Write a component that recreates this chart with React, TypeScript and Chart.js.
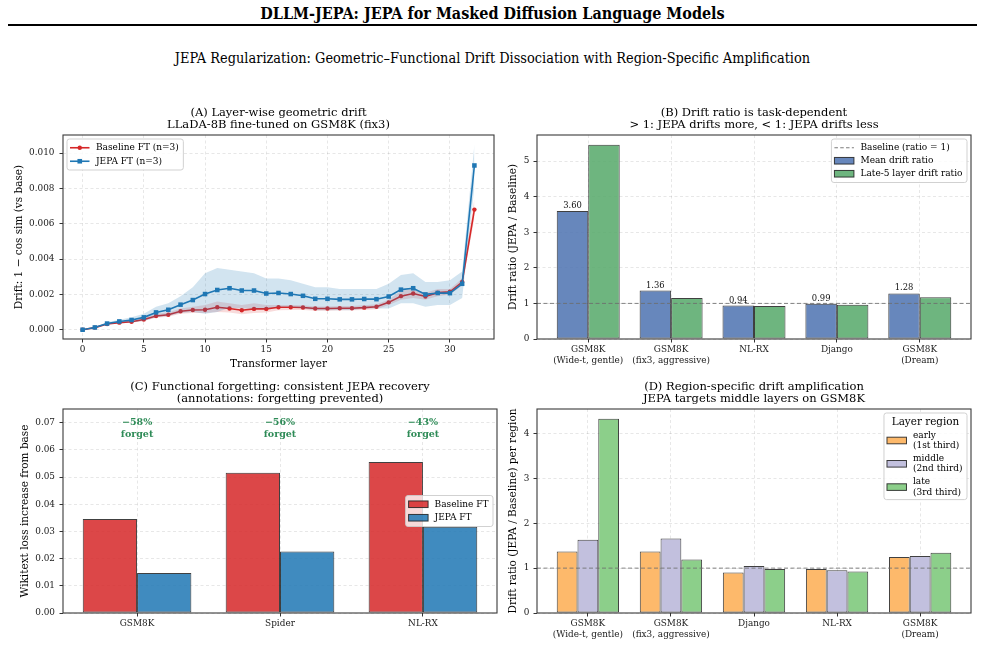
import { useEffect, useRef } from 'react';
import { Chart, registerables } from 'chart.js';

Chart.register(...registerables);

const FONT = "'DejaVu Serif', 'Liberation Serif', serif";

// ---------------- Panel A data ----------------
const layerIdx = [0, 1, 2, 3, 4, 5, 6, 7, 8, 9, 10, 11, 12, 13, 14, 15, 16, 17, 18, 19, 20, 21, 22, 23, 24, 25, 26, 27, 28, 29, 30, 31, 32];
const baselineDrift = [0, 0.00012, 0.00032, 0.0004, 0.00045, 0.00058, 0.00078, 0.00085, 0.00105, 0.00112, 0.00113, 0.00127, 0.0012, 0.0011, 0.00118, 0.00118, 0.00127, 0.00127, 0.00126, 0.0012, 0.0012, 0.00122, 0.00122, 0.00125, 0.0013, 0.00155, 0.0019, 0.00205, 0.00188, 0.0021, 0.00215, 0.0027, 0.0068];
const baselineLo = [0, 0.0001, 0.0003, 0.00036, 0.0004, 0.0005, 0.00068, 0.00074, 0.0009, 0.00095, 0.00095, 0.001, 0.00098, 0.00088, 0.00095, 0.00098, 0.0011, 0.00112, 0.00112, 0.00108, 0.00108, 0.0011, 0.0011, 0.00112, 0.00116, 0.0014, 0.0017, 0.0018, 0.0017, 0.0019, 0.002, 0.0025, 0.0063];
const baselineHi = [0, 0.00014, 0.00035, 0.00045, 0.0005, 0.00066, 0.0009, 0.00098, 0.0012, 0.0013, 0.0014, 0.0016, 0.0015, 0.0014, 0.0015, 0.0014, 0.0014, 0.0014, 0.00138, 0.00132, 0.00132, 0.00134, 0.00134, 0.00138, 0.00144, 0.0017, 0.0022, 0.0023, 0.0021, 0.0023, 0.0023, 0.0029, 0.0074];
const jepaDrift = [0, 0.00013, 0.00035, 0.00047, 0.00055, 0.0007, 0.00098, 0.00113, 0.00142, 0.00168, 0.00202, 0.00225, 0.00235, 0.00222, 0.00222, 0.00205, 0.00208, 0.00202, 0.00192, 0.00175, 0.00175, 0.00172, 0.00172, 0.00174, 0.00173, 0.00188, 0.00227, 0.00235, 0.002, 0.00208, 0.00207, 0.0026, 0.0093];
const jepaLo = [0, 0.0001, 0.0003, 0.0004, 0.00043, 0.0005, 0.0007, 0.00078, 0.00095, 0.001, 0.0009, 0.001, 0.00125, 0.0012, 0.0012, 0.0012, 0.0013, 0.0013, 0.0012, 0.0011, 0.0011, 0.0011, 0.0011, 0.0012, 0.0012, 0.0012, 0.0015, 0.0015, 0.0013, 0.0014, 0.0014, 0.0018, 0.0081];
const jepaHi = [0, 0.00017, 0.00042, 0.00056, 0.0007, 0.0009, 0.0013, 0.0015, 0.0019, 0.0024, 0.0032, 0.0035, 0.0034, 0.0033, 0.0032, 0.0029, 0.0029, 0.0028, 0.0026, 0.0024, 0.0024, 0.0023, 0.0023, 0.0023, 0.0023, 0.0026, 0.0031, 0.0032, 0.0027, 0.0027, 0.0028, 0.0033, 0.0105];
const layerTicksA = [0, 5, 10, 15, 20, 25, 30];
const driftTicksA = [0, 0.002, 0.004, 0.006, 0.008, 0.01];

// ---------------- Panel B data ----------------
const tasksB = [['GSM8K', '(Wide-t, gentle)'], ['GSM8K', '(fix3, aggressive)'], ['NL-RX'], ['Django'], ['GSM8K', '(Dream)']];
const meanRatio = [3.6, 1.36, 0.94, 0.99, 1.28];
const late5Ratio = [5.46, 1.15, 0.93, 0.96, 1.17];
const ratioTicksB = [0, 1, 2, 3, 4, 5];

// ---------------- Panel C data ----------------
const tasksC = ['GSM8K', 'Spider', 'NL-RX'];
const baselineForget = [0.0346, 0.0516, 0.0556];
const jepaForget = [0.0147, 0.0226, 0.0317];
const forgetNotes = ['\u221258%', '\u221256%', '\u221243%'];
const forgetTicksC = [0, 0.01, 0.02, 0.03, 0.04, 0.05, 0.06, 0.07];

// ---------------- Panel D data ----------------
const tasksD = [['GSM8K', '(Wide-t, gentle)'], ['GSM8K', '(fix3, aggressive)'], ['Django'], ['NL-RX'], ['GSM8K', '(Dream)']];
const earlyRatio = [1.37, 1.37, 0.9, 0.98, 1.25];
const middleRatio = [1.63, 1.66, 1.05, 0.955, 1.27];
const lateRatio = [4.33, 1.19, 0.98, 0.925, 1.34];
const ratioTicksD = [0, 1, 2, 3, 4];

// ---------------- colours ----------------
const RED = '#d62728';
const BLUE = '#1f77b4';
const B_BLUE = 'rgba(76,114,176,0.85)';
const B_GREEN = 'rgba(85,168,104,0.85)';
const C_RED = 'rgba(214,39,40,0.85)';
const C_BLUE = 'rgba(31,119,180,0.85)';
const D_ORANGE = '#fdb96b';
const D_PURPLE = '#c2c0de';
const D_GREEN = '#8ccf8a';
const EDGE = 'rgba(30,30,30,0.85)';

const W = 985;
const H = 646;

const pts = (xs: number[], ys: number[]) => xs.map((x, i) => ({ x, y: ys[i] }));
const idxPts = (ys: number[]) => ys.map((y, i) => ({ x: i, y }));

function axis(o: {
  min: number; max: number; ticks: number[]; fmt: (v: number) => string | string[];
  fit: number; horizontal: boolean; pad: number; title?: string; titlePad?: number;
}) {
  return {
    type: 'linear',
    bounds: 'data',
    min: o.min,
    max: o.max,
    offset: false,
    afterBuildTicks: (s: any) => { s.ticks = o.ticks.map((v) => ({ value: v })); },
    afterFit: (s: any) => { if (o.horizontal) s.height = o.fit; else s.width = o.fit; },
    ticks: {
      autoSkip: false, maxRotation: 0, minRotation: 0, padding: o.pad, color: '#1a1a1a',
      font: { family: FONT, size: 8.9, lineHeight: 1.24 },
      callback: (v: any) => o.fmt(Number(v)),
    },
    grid: {
      display: true, drawOnChartArea: true, color: 'rgba(0,0,0,0.12)', lineWidth: 0.8,
      drawTicks: true, tickLength: 3.5, tickWidth: 1, tickColor: '#333', tickBorderDash: [], offset: false,
    },
    border: { display: false, dash: [3, 2.5] },
    title: o.title
      ? {
          display: true, text: o.title, color: '#000',
          font: { family: FONT, size: 10.5, lineHeight: 1.2 },
          padding: o.horizontal ? { top: 0, bottom: o.titlePad ?? 0 } : { top: o.titlePad ?? 0, bottom: 0 },
        }
      : { display: false },
  };
}

type LegendRow = { kind: 'line' | 'patch' | 'dash'; color: string; marker?: 'circle' | 'rect'; lines: string[] };
type LegendSpec = {
  anchor: 'tl' | 'tr' | 'r'; rows: LegendRow[]; header?: string;
  lh?: number; gap?: number; padY?: number; headH?: number;
};
type Decor = {
  title: string[];
  legend: LegendSpec;
  refLine?: number;
  valueLabels?: { dataset: number; values: number[] };
  notes?: { y: number; top: string[]; bottom: string };
};

function drawLegend(ctx: CanvasRenderingContext2D, a: any, L: LegendSpec) {
  const fs = 9;
  const lh = L.lh ?? 10.5;
  const gap = L.gap ?? 3;
  const padY = L.padY ?? 3.5;
  const padL = 3;
  const padR = 4.5;
  const hl = 19.5;
  const hg = 6.5;
  ctx.font = `${fs}px ${FONT}`;
  let tw = 0;
  L.rows.forEach((r) => r.lines.forEach((s) => { tw = Math.max(tw, ctx.measureText(s).width); }));
  let headH = 0;
  let headW = 0;
  if (L.header) {
    ctx.font = `10.4px ${FONT}`;
    headW = ctx.measureText(L.header).width;
    headH = L.headH ?? 14;
  }
  const w = padL + Math.max(hl + hg + tw, headW) + padR;
  const rowsH = L.rows.reduce((s, r) => s + r.lines.length * lh, 0) + gap * (L.rows.length - 1);
  const h = padY * 2 + headH + rowsH;
  const inset = 4;
  const x = L.anchor === 'tl' ? a.left + inset : a.right - inset - w;
  const y = L.anchor === 'r' ? (a.top + a.bottom) / 2 - h / 2 : a.top + inset;
  ctx.save();
  ctx.setLineDash([]);
  ctx.beginPath();
  (ctx as any).roundRect(x, y, w, h, 2.5);
  ctx.fillStyle = 'rgba(255,255,255,0.8)';
  ctx.fill();
  ctx.strokeStyle = 'rgba(204,204,204,0.9)';
  ctx.lineWidth = 1;
  ctx.stroke();
  let cy = y + padY;
  if (L.header) {
    ctx.font = `10.4px ${FONT}`;
    ctx.fillStyle = '#000';
    ctx.textAlign = 'center';
    ctx.textBaseline = 'middle';
    ctx.fillText(L.header, x + w / 2, cy + headH / 2);
    cy += headH;
  }
  L.rows.forEach((r) => {
    const rh = r.lines.length * lh;
    const mid = cy + rh / 2;
    const hx = x + padL;
    if (r.kind === 'patch') {
      ctx.fillStyle = r.color;
      ctx.fillRect(hx, mid - 3.3, hl, 6.6);
      ctx.strokeStyle = EDGE;
      ctx.lineWidth = 1;
      ctx.strokeRect(hx, mid - 3.3, hl, 6.6);
    } else if (r.kind === 'dash') {
      ctx.strokeStyle = 'rgba(110,110,110,0.9)';
      ctx.lineWidth = 1;
      ctx.setLineDash([3.5, 2.3]);
      ctx.beginPath();
      ctx.moveTo(hx, mid);
      ctx.lineTo(hx + hl, mid);
      ctx.stroke();
      ctx.setLineDash([]);
    } else {
      ctx.strokeStyle = r.color;
      ctx.lineWidth = 1.6;
      ctx.beginPath();
      ctx.moveTo(hx, mid);
      ctx.lineTo(hx + hl, mid);
      ctx.stroke();
      ctx.fillStyle = r.color;
      const cx = hx + hl / 2;
      if (r.marker === 'rect') ctx.fillRect(cx - 2.3, mid - 2.3, 4.6, 4.6);
      else { ctx.beginPath(); ctx.arc(cx, mid, 2.2, 0, Math.PI * 2); ctx.fill(); }
    }
    ctx.font = `${fs}px ${FONT}`;
    ctx.fillStyle = '#000';
    ctx.textAlign = 'left';
    ctx.textBaseline = 'middle';
    r.lines.forEach((s, k) => ctx.fillText(s, hx + hl + hg, cy + lh * (k + 0.5)));
    cy += rh + gap;
  });
  ctx.restore();
}

function makeDecor(d: Decor) {
  return {
    id: 'decor',
    afterDatasetsDraw(chart: any) {
      const { ctx, chartArea: a, scales } = chart;
      ctx.save();
      if (d.refLine !== undefined) {
        const yy = scales.y.getPixelForValue(d.refLine);
        ctx.strokeStyle = 'rgba(110,110,110,0.85)';
        ctx.lineWidth = 1;
        ctx.setLineDash([4, 2.5]);
        ctx.beginPath();
        ctx.moveTo(a.left, yy);
        ctx.lineTo(a.right, yy);
        ctx.stroke();
        ctx.setLineDash([]);
      }
      if (d.valueLabels) {
        const meta = chart.getDatasetMeta(d.valueLabels.dataset);
        ctx.font = `8.4px ${FONT}`;
        ctx.fillStyle = '#111';
        ctx.textAlign = 'center';
        ctx.textBaseline = 'bottom';
        meta.data.forEach((el: any, i: number) => {
          ctx.fillText(d.valueLabels!.values[i].toFixed(2), el.x, el.y - 1);
        });
      }
      if (d.notes) {
        const yy = scales.y.getPixelForValue(d.notes.y);
        ctx.font = `bold 9.5px ${FONT}`;
        ctx.fillStyle = '#2e8b57';
        ctx.textAlign = 'center';
        ctx.textBaseline = 'middle';
        d.notes.top.forEach((t, i) => {
          const xx = scales.x.getPixelForValue(i);
          ctx.fillText(t, xx, yy);
          ctx.fillText(d.notes!.bottom, xx, yy + 11.7);
        });
      }
      // frame (all four spines)
      ctx.strokeStyle = '#3a3a3a';
      ctx.lineWidth = 1.1;
      ctx.strokeRect(a.left, a.top, a.right - a.left, a.bottom - a.top);
      // panel title
      ctx.font = `11.5px ${FONT}`;
      ctx.fillStyle = '#000';
      ctx.textAlign = 'center';
      ctx.textBaseline = 'middle';
      const cx = (a.left + a.right) / 2;
      const n = d.title.length;
      d.title.forEach((t, i) => ctx.fillText(t, cx, a.top - 10 - (n - 1 - i) * 11.8));
      ctx.restore();
      drawLegend(ctx, a, d.legend);
    },
  };
}

function baseOptions(padding: any, scales: any) {
  return {
    responsive: false,
    animation: false,
    devicePixelRatio: 1,
    events: [],
    layout: { padding },
    plugins: { legend: { display: false }, title: { display: false }, tooltip: { enabled: false } },
    scales,
  };
}

function configA(): any {
  const yMax = Math.max(...jepaHi) * 1.05;
  const yMin = -Math.max(...jepaHi) * 0.05;
  const band = (ys: number[], color: string, fill: any, order: number) => ({
    data: pts(layerIdx, ys), fill, backgroundColor: color, borderColor: 'rgba(0,0,0,0)', borderWidth: 0,
    pointRadius: 0, order,
  });
  return {
    type: 'line',
    data: {
      datasets: [
        band(jepaHi, 'rgba(31,119,180,0.2)', '+1', 1),
        band(jepaLo, 'rgba(0,0,0,0)', false, 1),
        band(baselineHi, 'rgba(214,39,40,0.17)', '+1', 3),
        band(baselineLo, 'rgba(0,0,0,0)', false, 3),
        {
          label: 'Baseline FT (n=3)', data: pts(layerIdx, baselineDrift), borderColor: RED, backgroundColor: RED,
          borderWidth: 1.6, pointStyle: 'circle', pointRadius: 2.2, pointBorderWidth: 0, fill: false, order: 2,
        },
        {
          label: 'JEPA FT (n=3)', data: pts(layerIdx, jepaDrift), borderColor: BLUE, backgroundColor: BLUE,
          borderWidth: 1.6, pointStyle: 'rect', pointRadius: 3.2, pointBorderWidth: 0, fill: false, order: 0,
        },
      ],
    },
    options: baseOptions(
      { left: 0, top: 135, right: W - 494, bottom: H - 339 - 32 },
      {
        x: axis({ min: -1.6, max: 33.6, ticks: layerTicksA, fmt: (v) => String(v), fit: 32, horizontal: true, pad: 2, title: 'Transformer layer', titlePad: 0 }),
        y: axis({ min: yMin, max: yMax, ticks: driftTicksA, fmt: (v) => v.toFixed(3), fit: 63, horizontal: false, pad: 5, title: 'Drift: 1 \u2212 cos sim (vs base)', titlePad: 13 }),
      },
    ),
    plugins: [makeDecor({
      title: ['(A) Layer-wise geometric drift', 'LLaDA-8B fine-tuned on GSM8K (fix3)'],
      legend: {
        anchor: 'tl',
        rows: [
          { kind: 'line', color: RED, marker: 'circle', lines: ['Baseline FT (n=3)'] },
          { kind: 'line', color: BLUE, marker: 'rect', lines: ['JEPA FT (n=3)'] },
        ],
      },
    })],
  };
}

function barDs(label: string, ys: number[], color: string, cat: number) {
  return {
    label, data: idxPts(ys), backgroundColor: color, borderColor: EDGE, borderWidth: 1,
    borderSkipped: false, categoryPercentage: cat, barPercentage: 1,
  };
}

function configB(): any {
  const yMax = Math.max(...late5Ratio) * 1.05;
  const half = 0.38;
  const span = (tasksB.length - 1) + 2 * half;
  return {
    type: 'bar',
    data: {
      datasets: [
        barDs('Mean drift ratio', meanRatio, B_BLUE, 0.76),
        barDs('Late-5 layer drift ratio', late5Ratio, B_GREEN, 0.76),
      ],
    },
    options: baseOptions(
      { left: 497, top: 135, right: W - 971, bottom: H - 339 - 30 },
      {
        x: axis({ min: -half - 0.05 * span, max: tasksB.length - 1 + half + 0.05 * span, ticks: tasksB.map((_, i) => i), fmt: (v) => tasksB[Math.round(v)], fit: 30, horizontal: true, pad: 2 }),
        y: axis({ min: 0, max: yMax, ticks: ratioTicksB, fmt: (v) => String(v), fit: 40, horizontal: false, pad: 4, title: 'Drift ratio (JEPA / Baseline)', titlePad: 10 }),
      },
    ),
    plugins: [makeDecor({
      title: ['(B) Drift ratio is task-dependent', '> 1: JEPA drifts more, < 1: JEPA drifts less'],
      refLine: 1,
      valueLabels: { dataset: 0, values: meanRatio },
      legend: {
        anchor: 'tr',
        rows: [
          { kind: 'dash', color: '#777', lines: ['Baseline (ratio = 1)'] },
          { kind: 'patch', color: B_BLUE, lines: ['Mean drift ratio'] },
          { kind: 'patch', color: B_GREEN, lines: ['Late-5 layer drift ratio'] },
        ],
        gap: 2.5,
      },
    })],
  };
}

function configC(): any {
  const yMax = Math.max(...baselineForget) * 1.35;
  const half = 0.38;
  const span = (tasksC.length - 1) + 2 * half;
  return {
    type: 'bar',
    data: {
      datasets: [
        barDs('Baseline FT', baselineForget, C_RED, 0.76),
        barDs('JEPA FT', jepaForget, C_BLUE, 0.76),
      ],
    },
    options: baseOptions(
      { left: 0, top: 409, right: W - 497, bottom: H - 613 - 26 },
      {
        x: axis({ min: -half - 0.05 * span, max: tasksC.length - 1 + half + 0.05 * span, ticks: tasksC.map((_, i) => i), fmt: (v) => tasksC[Math.round(v)], fit: 26, horizontal: true, pad: 2 }),
        y: axis({ min: 0, max: yMax, ticks: forgetTicksC, fmt: (v) => v.toFixed(2), fit: 63, horizontal: false, pad: 4.5, title: 'Wikitext loss increase from base', titlePad: 19 }),
      },
    ),
    plugins: [makeDecor({
      title: ['(C) Functional forgetting: consistent JEPA recovery', '(annotations: forgetting prevented)'],
      notes: { y: 0.07, top: forgetNotes, bottom: 'forget' },
      legend: {
        anchor: 'r',
        rows: [
          { kind: 'patch', color: C_RED, lines: ['Baseline FT'] },
          { kind: 'patch', color: C_BLUE, lines: ['JEPA FT'] },
        ],
      },
    })],
  };
}

function configD(): any {
  const yMax = Math.max(...lateRatio) * 1.05;
  const half = 0.375;
  const span = (tasksD.length - 1) + 2 * half;
  return {
    type: 'bar',
    data: {
      datasets: [
        barDs('early (1st third)', earlyRatio, D_ORANGE, 0.75),
        barDs('middle (2nd third)', middleRatio, D_PURPLE, 0.75),
        barDs('late (3rd third)', lateRatio, D_GREEN, 0.75),
      ],
    },
    options: baseOptions(
      { left: 497, top: 409, right: W - 971, bottom: H - 613 - 30 },
      {
        x: axis({ min: -half - 0.05 * span, max: tasksD.length - 1 + half + 0.05 * span, ticks: tasksD.map((_, i) => i), fmt: (v) => tasksD[Math.round(v)], fit: 30, horizontal: true, pad: 2 }),
        y: axis({ min: 0, max: yMax, ticks: ratioTicksD, fmt: (v) => String(v), fit: 40, horizontal: false, pad: 4, title: 'Drift ratio (JEPA / Baseline) per region', titlePad: 10 }),
      },
    ),
    plugins: [makeDecor({
      title: ['(D) Region-specific drift amplification', 'JEPA targets middle layers on GSM8K'],
      refLine: 1,
      legend: {
        anchor: 'tr',
        header: 'Layer region',
        headH: 15,
        padY: 2,
        gap: 2.3,
        rows: [
          { kind: 'patch', color: D_ORANGE, lines: ['early', '(1st third)'] },
          { kind: 'patch', color: D_PURPLE, lines: ['middle', '(2nd third)'] },
          { kind: 'patch', color: D_GREEN, lines: ['late', '(3rd third)'] },
        ],
      },
    })],
  };
}

function Panel({ make }: { make: () => any }) {
  const ref = useRef<HTMLCanvasElement | null>(null);
  useEffect(() => {
    if (!ref.current) return;
    const chart = new Chart(ref.current, make());
    return () => chart.destroy();
  }, [make]);
  return (
    <canvas
      ref={ref}
      width={W}
      height={H}
      style={{ position: 'absolute', left: 0, top: 0, width: W, height: H }}
    />
  );
}

export default function App() {
  return (
    <div style={{ position: 'absolute', left: 0, top: 0, width: W, height: H, background: '#fff', overflow: 'hidden' }}>
      <div style={{ position: 'absolute', top: 4, left: 0, width: W, textAlign: 'center', lineHeight: '20px', fontWeight: 'bold', fontSize: 16, fontFamily: "'DejaVu Serif Condensed', 'DejaVu Serif', serif", color: '#000' }}>
        DLLM-JEPA: JEPA for Masked Diffusion Language Models
      </div>
      <div style={{ position: 'absolute', top: 24, left: 8, width: 969, height: 2, background: '#000' }} />
      <div style={{ position: 'absolute', top: 49, left: 0, width: W, textAlign: 'center', lineHeight: '18px', fontSize: 14.4, fontFamily: "'DejaVu Serif Condensed', 'DejaVu Serif', serif", color: '#000' }}>
        JEPA Regularization: Geometric{'\u2013'}Functional Drift Dissociation with Region-Specific Amplification
      </div>
      <Panel make={configA} />
      <Panel make={configB} />
      <Panel make={configC} />
      <Panel make={configD} />
    </div>
  );
}
